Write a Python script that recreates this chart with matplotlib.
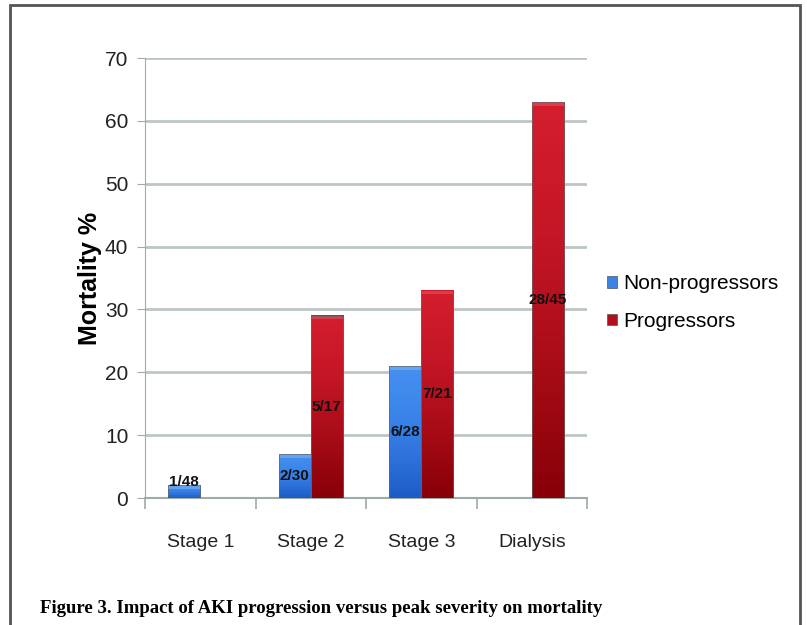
import numpy as np
import matplotlib.pyplot as plt
from matplotlib.patches import Patch, Rectangle
from matplotlib.colors import LinearSegmentedColormap

# --- chart data ---
categories = ["Stage 1", "Stage 2", "Stage 3", "Dialysis"]
non_prog = [2, 7, 21, None]
prog = [None, 29, 33, 63]
non_prog_labels = ["1/48", "2/30", "6/28", None]
prog_labels = [None, "5/17", "7/21", "28/45"]
series_names = ["Non-progressors", "Progressors"]
yticks = [0, 10, 20, 30, 40, 50, 60, 70]

plt.rcParams['font.family'] = ['Liberation Sans', 'DejaVu Sans']

blue_cmap = LinearSegmentedColormap.from_list("b", ["#1d5cc6", "#2f74dc", "#3c86ea", "#4690f0"])
red_cmap = LinearSegmentedColormap.from_list("r", ["#880008", "#a80c16", "#c41626", "#d41e2e"])

fig = plt.figure(figsize=(8.07, 6.25), dpi=100)
ax = fig.add_axes([0.1797, 0.2032, 0.5477, 0.704])

x = np.arange(len(categories))
w = 0.29
grad = np.linspace(0, 1, 100).reshape(-1, 1)


def gradient_bar(xc, h, cmap, top):
    ax.imshow(grad, extent=[xc - w / 2, xc + w / 2, 0, h], origin='lower',
              aspect='auto', cmap=cmap, zorder=3, interpolation='bicubic')
    # soft light bevel along the top edge
    ax.add_patch(Rectangle((xc - w / 2, h - 0.6), w, 0.6, facecolor=top,
                           edgecolor='none', alpha=0.6, zorder=3.5))
    ax.add_patch(Rectangle((xc - w / 2, 0), w, h, fill=False,
                           edgecolor="#666666", lw=0.5, zorder=4))


for i in range(len(categories)):
    if non_prog[i] is not None:
        gradient_bar(x[i] - w / 2, non_prog[i], blue_cmap, "#7ab4f6")
        ax.text(x[i] - w / 2, max(non_prog[i] / 2, 2.6), non_prog_labels[i],
                ha='center', va='center', fontsize=11, fontweight='bold',
                color='#111111', zorder=5)
    if prog[i] is not None:
        gradient_bar(x[i] + w / 2, prog[i], red_cmap, "#e8505c")
        ax.text(x[i] + w / 2, prog[i] / 2, prog_labels[i],
                ha='center', va='center', fontsize=11, fontweight='bold',
                color='#111111', zorder=5)

ax.set_xlim(-0.5, 3.5)
ax.set_ylim(0, 70)
ax.set_yticks(yticks)
ax.tick_params(axis='y', labelsize=15, length=6, color='#a0aaa8', pad=6,
               labelcolor='#222222')
ax.set_xticks(x)
ax.set_xticklabels(categories)
ax.set_xticks(np.arange(-0.5, 4.0, 1.0), minor=True)
ax.tick_params(axis='x', which='major', length=0, labelsize=14, pad=26,
               labelcolor='#222222')
ax.tick_params(axis='x', which='minor', length=8, color='#a0aaa8', width=1.2)

ax.grid(axis='y', color='#bcc6c3', lw=2, zorder=0)
ax.set_axisbelow(True)
for s in ['top', 'right']:
    ax.spines[s].set_visible(False)
ax.spines['left'].set_color('#a0aaa8')
ax.spines['bottom'].set_color('#a0aaa8')
ax.spines['bottom'].set_linewidth(1.5)

ax.set_ylabel("Mortality %", fontsize=18, fontweight='bold', labelpad=2)

handles = [Patch(facecolor="#3a82e6", edgecolor="#555555", lw=0.5),
           Patch(facecolor="#b01020", edgecolor="#555555", lw=0.5)]
fig.legend(handles, series_names, loc='center left',
           bbox_to_anchor=(0.729, 0.516), frameon=False, fontsize=15,
           handlelength=0.5, handleheight=0.5, handletextpad=0.3,
           labelspacing=0.9)

fig.text(0.0496, 0.027, "Figure 3. Impact of AKI progression versus peak severity on mortality",
         fontsize=13.5, fontweight='bold', family='Liberation Serif', va='center')

fig.add_artist(Rectangle((10 / 807, -0.1), 790 / 807, 1.1 - 5 / 625,
                         transform=fig.transFigure, fill=False,
                         edgecolor='#555555', lw=2))

fig.savefig("out.png", dpi=100)
